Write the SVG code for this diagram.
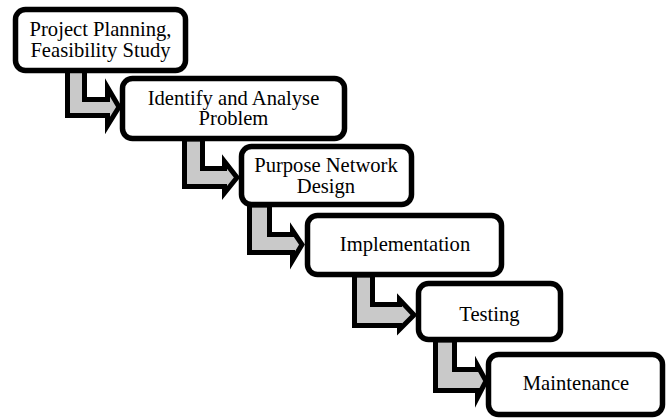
<svg xmlns="http://www.w3.org/2000/svg" width="667" height="418" viewBox="0 0 667 418">
<style>
.box{fill:#fff;stroke:#000;stroke-width:5.5}
.arr{fill:#c9c9c9;stroke:#000;stroke-width:5;stroke-linejoin:miter;stroke-miterlimit:10}
.t{font-family:'Liberation Serif','Times New Roman',serif;font-size:20.6px;fill:#000;text-anchor:middle}
</style>
<rect width="667" height="418" fill="#fff"/>
<g id="connectors">
<polygon class="arr" points="67.5,70 84.5,70 84.5,99.5 107.5,99.5 107.5,87.5 119,107 107.5,125.5 107.5,115.5 67.5,115.5"/>
<polygon class="arr" points="184.5,139 202.5,139 202.5,168.5 224.5,168.5 224.5,161.5 237,177.5 224.5,193 224.5,186.5 184.5,186.5"/>
<polygon class="arr" points="249.5,205 269.5,205 269.5,234.5 292.5,234.5 292.5,230.5 302,244.5 292.5,260.5 292.5,252.5 249.5,252.5"/>
<polygon class="arr" points="354.5,275 372.5,275 372.5,304.5 399.5,304.5 399.5,299.5 414,315 399.5,329.5 399.5,325.5 354.5,325.5"/>
<polygon class="arr" points="435.5,340 454.5,340 454.5,369.5 477.5,369.5 477.5,365.5 486,381 477.5,397.5 477.5,390.5 435.5,390.5"/>
</g>
<g id="n1"><rect class="box" x="15.5" y="9.5" width="170" height="61" rx="10"/><text class="t" x="100.5" y="36">Project Planning,</text><text class="t" x="100.5" y="57">Feasibility Study</text></g>
<g id="n2"><rect class="box" x="122.5" y="78.5" width="222" height="60" rx="10"/><text class="t" x="233.5" y="105">Identify and Analyse</text><text class="t" x="233.5" y="125">Problem</text></g>
<g id="n3"><rect class="box" x="241.5" y="146.5" width="170" height="58" rx="10"/><text class="t" x="326" y="172">Purpose Network</text><text class="t" x="326" y="193">Design</text></g>
<g id="n4"><rect class="box" x="307.5" y="215.5" width="194" height="59" rx="10"/><text class="t" x="405" y="251">Implementation</text></g>
<g id="n5"><rect class="box" x="418.5" y="283.5" width="142" height="56" rx="10"/><text class="t" x="489.5" y="321">Testing</text></g>
<g id="n6"><rect class="box" x="488.5" y="354.5" width="174" height="60" rx="10"/><text class="t" x="576" y="390">Maintenance</text></g>
</svg>
